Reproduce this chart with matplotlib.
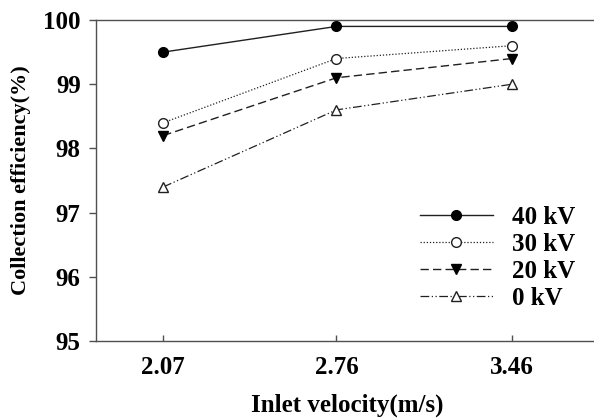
import matplotlib
matplotlib.use("Agg")
import matplotlib.pyplot as plt

# data
velocity = [2.07, 2.76, 3.46]
eff_40kv = [99.5, 99.9, 99.9]
eff_30kv = [98.4, 99.4, 99.6]
eff_20kv = [98.2, 99.1, 99.4]
eff_0kv = [97.4, 98.6, 99.0]
series_labels = ["40 kV", "30 kV", "20 kV", "0 kV"]
y_ticks = [95, 96, 97, 98, 99, 100]

plt.rcParams['font.family'] = ['Liberation Serif', 'DejaVu Serif']
plt.rcParams['font.weight'] = 'bold'

fig = plt.figure(figsize=(5.94, 4.18), dpi=100)
# right spine runs off the canvas like in the original
ax = fig.add_axes([96 / 594, 1 - 341 / 418, 507 / 594, 321 / 418])

col = '#202020'
ax.plot(velocity, eff_40kv, ls='-', color=col, lw=1.0, marker='o', ms=7,
        mfc='black', mec='black', label=series_labels[0])
ax.plot(velocity, eff_30kv, ls=(0, (1, 1.5)), color=col, lw=0.9, marker='o', ms=7,
        mfc='white', mec=col, mew=1.0, label=series_labels[1])
ax.plot(velocity, eff_20kv, ls=(0, (6, 3)), color=col, lw=1.0, marker='v', ms=7.5,
        mfc='black', mec='black', label=series_labels[2])
ax.plot(velocity, eff_0kv, ls=(0, (7, 2, 1, 2, 1, 2)), color=col, lw=0.9, marker='^', ms=7.5,
        mfc='white', mec=col, mew=1.0, label=series_labels[3])

ax.set_xlim(1.802, 3.822)
ax.set_ylim(95, 100)
ax.set_xticks(velocity)
ax.set_xticklabels([f"{v:.2f}" for v in velocity])
ax.set_yticks(y_ticks)

for s in ['left', 'bottom', 'top', 'right']:
    ax.spines[s].set_color('#505050')
    ax.spines[s].set_linewidth(1.0)

ax.tick_params(axis='y', direction='out', length=5, width=1, colors='#505050',
               labelcolor='black', labelsize=18, pad=6)
ax.tick_params(axis='x', direction='in', length=4, width=1, colors='#505050',
               labelcolor='black', labelsize=18, pad=11)

# axis titles placed by hand
fig.text(347 / 594, 1 - 405 / 418, "Inlet velocity(m/s)", fontsize=18,
         fontweight='bold', ha='center', va='center')
fig.text(21 / 594, 1 - 180 / 418, "Collection efficiency(%)", fontsize=16,
         fontweight='bold', ha='center', va='center', rotation=90)

ax.legend(loc='upper left', bbox_to_anchor=(420 / 594, 1 - 206 / 418),
          bbox_transform=fig.transFigure, frameon=False, fontsize=18,
          borderpad=0, borderaxespad=0, handlelength=2.9, handletextpad=0.76,
          labelspacing=0.16)

fig.savefig("out.png", dpi=100)
